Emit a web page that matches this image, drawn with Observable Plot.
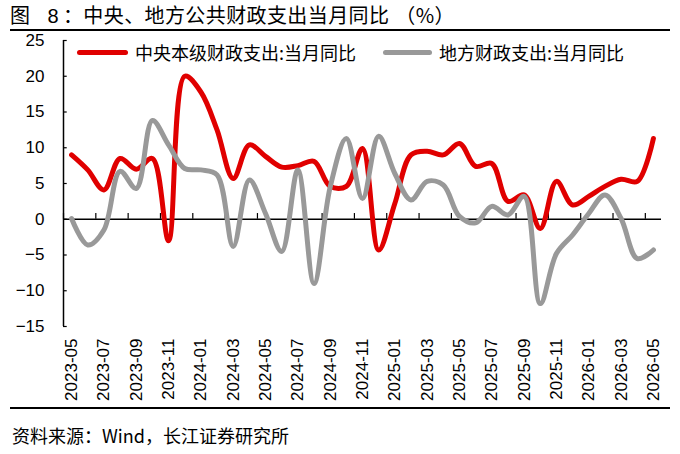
<!DOCTYPE html>
<html>
<head>
<meta charset="utf-8">
<script src="https://cdn.jsdelivr.net/npm/d3@7"></script>
<script src="https://cdn.jsdelivr.net/npm/@observablehq/plot@0.6"></script>
<style>
  html, body { margin: 0; padding: 0; background: #fff; }
  body { width: 680px; height: 454px; position: relative; overflow: hidden;
         font-family: "Liberation Sans", "Noto Sans CJK SC", sans-serif; color: #000; }
  #title { margin: 0 10px; height: 29px; border-bottom: 2px solid #000;
           font-family: "Noto Sans CJK SC", sans-serif; font-size: 20px; line-height: 30px; white-space: nowrap;
           letter-spacing: 0.4px; }
  #title .num { font-family: "Liberation Sans", sans-serif; margin-left: 17px; margin-right: 4px; }
  #title .par { margin-left: 6px; }
  #chart { position: relative; height: 376px; }
  #footer { margin: 0 10px; border-top: 2px solid #000; font-family: "Noto Sans CJK SC", sans-serif;
            font-size: 18px; padding-top: 13px; padding-left: 2px; white-space: nowrap; }
  .leg { position: absolute; display: flex; align-items: center; font-family: "Noto Sans CJK SC", sans-serif;
         font-size: 18px; white-space: nowrap; }
  .leg .sw { display: inline-block; height: 5px; border-radius: 3px; margin-right: 7px; }
</style>
</head>
<body>
<div id="title">图<span class="num">8</span>：中央、地方公共财政支出当月同比<span class="par">（%）</span></div>
<div id="chart"></div>
<div id="footer">资料来源：Wind，长江证券研究所</div>
<script>
const months = ["2023-05","2023-06","2023-07","2023-08","2023-09","2023-10","2023-11","2023-12",
  "2024-01","2024-02","2024-03","2024-04","2024-05","2024-06","2024-07","2024-08","2024-09","2024-10",
  "2024-11","2024-12","2025-01","2025-02","2025-03","2025-04","2025-05","2025-06","2025-07","2025-08",
  "2025-09","2025-10","2025-11","2025-12","2026-01","2026-02","2026-03","2026-04","2026-05"];
const central = [9.0, 6.9, 4.1, 8.5, 7.0, 8.5, -3.0, 20.0, 17.8, 12.5, 5.7, 10.4, 8.8, 7.3, 7.5, 8.1,
  4.6, 4.6, 9.9, -4.3, 2.2, 9.0, 9.5, 9.0, 10.6, 7.4, 7.8, 2.5, 3.4, -1.3, 5.3, 2.0, 3.2, 4.6, 5.6, 5.3, 11.3];
const local = [0.1, -3.6, -1.5, 6.7, 4.3, 13.8, 10.4, 7.1, 6.9, 6.2, -3.8, 5.5, 0.8, -4.5, 6.9, -9.0,
  4.5, 11.3, 2.9, 11.6, 6.4, 2.7, 5.3, 4.8, 0.4, -0.5, 1.8, 0.6, 3.2, -11.8, -4.8, -2.2, 0.8, 3.4, 0.1, -5.5, -4.3];
const seriesNames = ["中央本级财政支出:当月同比", "地方财政支出:当月同比"];
const seriesColors = ["#E00000", "#999999"];
const yTicks = [-15, -10, -5, 0, 5, 10, 15, 20, 25];

const idx = months.map((m, i) => i);
const labelIdx = idx.filter(i => i % 2 === 0);
const boundaries = d3.range(-0.5, months.length, 2);

const chart = Plot.plot({
  width: 680, height: 376,
  marginTop: 9, marginBottom: 81, marginLeft: 63, marginRight: 19,
  x: {domain: [-0.5, months.length - 0.5]},
  y: {domain: [-15, 25]},
  style: {fontFamily: "'Liberation Sans', sans-serif", fontSize: "17px", color: "#000", background: "transparent"},
  marks: [
    Plot.axisY({ticks: yTicks, tickSize: 0, tickPadding: 19, fontSize: 17, label: null}),
    Plot.axisX({ticks: labelIdx, tickFormat: i => months[i], tickSize: 0, tickRotate: -90, tickPadding: 12, fontSize: 17, label: null}),
    Plot.ruleX([-0.5], {stroke: "#000", strokeWidth: 1.5}),
    Plot.ruleY(yTicks, {x1: -0.5, x2: -0.27, stroke: "#000", strokeWidth: 1.2}),
    Plot.ruleY([0], {stroke: "#000", strokeWidth: 1.5}),
    Plot.ruleX(boundaries, {y1: 0, y2: 0.8, stroke: "#000", strokeWidth: 1.2}),
    Plot.line(central, {x: (d, i) => i, y: d => d, stroke: seriesColors[0], strokeWidth: 5, curve: "catmull-rom"}),
    Plot.line(local, {x: (d, i) => i, y: d => d, stroke: seriesColors[1], strokeWidth: 5, curve: "catmull-rom"})
  ]
});
const wrap = document.getElementById("chart");
wrap.appendChild(chart);

const legLeft = [77, 383];
const swW = [51, 49];
seriesNames.forEach((name, k) => {
  const el = document.createElement("div");
  el.className = "leg";
  el.style.left = legLeft[k] + "px";
  el.style.top = "8px";
  el.innerHTML = `<span class="sw" style="width:${swW[k]}px;background:${seriesColors[k]}"></span><span>${name}</span>`;
  wrap.appendChild(el);
});
</script>
</body>
</html>
